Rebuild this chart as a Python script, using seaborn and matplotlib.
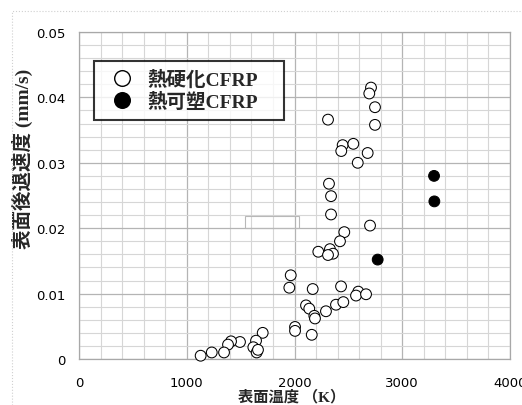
import matplotlib
matplotlib.use("Agg")
import matplotlib.pyplot as plt
from matplotlib.patches import Rectangle
from matplotlib.ticker import MultipleLocator
import seaborn as sns
import pandas as pd

# ---- data ----
thermoset_temp = [2710, 2694, 2747, 2747, 2311, 2447, 2434, 2546, 2679, 2587,
                  2320, 2339, 2339, 2701, 2462, 2422, 2221, 2329, 2357, 2311,
                  1965, 1952, 2169, 2432, 2592, 2571, 2664, 2107, 2137, 2184,
                  2190, 2292, 2385, 2453, 2005, 2005, 2160, 1705, 1643, 1618,
                  1649, 1661, 1494, 1411, 1383, 1346, 1232, 1129]
thermoset_rate = [0.0415, 0.0406, 0.0385, 0.0358, 0.0366, 0.0327, 0.0318, 0.0329, 0.0315, 0.0300,
                  0.0268, 0.0249, 0.0221, 0.0204, 0.0194, 0.0180, 0.0164, 0.0168, 0.0161, 0.0159,
                  0.0128, 0.0109, 0.0107, 0.0111, 0.0103, 0.0097, 0.0099, 0.0082, 0.0077, 0.0066,
                  0.0062, 0.0073, 0.0083, 0.0087, 0.0049, 0.0043, 0.0037, 0.0040, 0.0028, 0.0018,
                  0.0010, 0.0014, 0.0026, 0.0027, 0.0022, 0.0010, 0.0010, 0.0005]
thermoplastic_temp = [3295, 3298, 2772]
thermoplastic_rate = [0.0280, 0.0241, 0.0152]

series_labels = ["熱硬化CFRP", "熱可塑CFRP"]
x_ticks = [0, 1000, 2000, 3000, 4000]
x_tick_labels = ["0", "1000", "2000", "3000", "4000"]
y_ticks = [0, 0.01, 0.02, 0.03, 0.04, 0.05]
y_tick_labels = ["0", "0.01", "0.02", "0.03", "0.04", "0.05"]
x_label = "表面温度 （K）"
y_label = "表面後退速度 (mm/s)"

df = pd.DataFrame({
    "temp": thermoset_temp + thermoplastic_temp,
    "rate": thermoset_rate + thermoplastic_rate,
    "kind": [series_labels[0]] * len(thermoset_temp) + [series_labels[1]] * len(thermoplastic_temp),
})

sns.set_style("white")
plt.rcParams["font.family"] = ["DejaVu Sans"]
cjk = ["Liberation Serif", "Noto Sans CJK JP"]

fig = plt.figure(figsize=(5.22, 4.06), dpi=100)
ax = fig.add_axes([79 / 522, 1 - 360 / 406, 431 / 522, 327 / 406])

sns.scatterplot(data=df, x="temp", y="rate", hue="kind", style="kind",
                palette={series_labels[0]: "white", series_labels[1]: "black"},
                markers={series_labels[0]: "o", series_labels[1]: "o"},
                edgecolor="black", linewidth=0.75, s=60, ax=ax, clip_on=False, zorder=3)

# grid / ticks
ax.set_xlim(0, 4000)
ax.set_ylim(0, 0.05)
ax.set_xticks(x_ticks, x_tick_labels)
ax.set_yticks(y_ticks, y_tick_labels)
ax.xaxis.set_minor_locator(MultipleLocator(200))
ax.yaxis.set_minor_locator(MultipleLocator(0.002))
ax.grid(which="minor", color="#d6d6d6", linewidth=0.8)
ax.grid(which="major", color="#b4b4b4", linewidth=0.9)
ax.set_axisbelow(True)
ax.tick_params(which="minor", length=0)
ax.tick_params(which="major", length=3, color="#999999", labelsize=9.5, labelcolor="black")
ax.tick_params(axis="x", pad=9)
ax.tick_params(axis="y", pad=7)
for s in ax.spines.values():
    s.set_color("#a8a8a8")
    s.set_linewidth(0.9)

ax.set_xlabel(x_label, family=cjk, weight="bold", fontsize=11)
ax.set_ylabel(y_label, family=cjk, weight="bold", fontsize=14)
ax.xaxis.set_label_coords(0.494, -0.09)
ax.yaxis.set_label_coords(-0.107, 0.615)

handles, labels = ax.get_legend_handles_labels()
leg = ax.legend(handles, labels, loc="upper left", bbox_to_anchor=(0.035, 0.5, 0.441, 0.411),
                mode="expand", borderaxespad=0, frameon=True, fancybox=False, markerscale=1.45,
                handlelength=2.0, borderpad=0.45, handletextpad=0.3, labelspacing=0.15,
                prop={"family": cjk, "weight": "bold", "size": 14})
leg.get_frame().set_edgecolor("black")
leg.get_frame().set_linewidth(1.5)
for h in leg.legend_handles:
    try:
        h.set_markeredgecolor("black")
        h.set_markeredgewidth(1.0)
    except AttributeError:
        h.set_edgecolor("black")

# stray empty text box in the original
ax.add_patch(Rectangle((0.385, 0.401), 0.125, 0.037, transform=ax.transAxes,
                       fill=False, edgecolor="#b8b8b8", linewidth=0.8, zorder=2))

# dotted outer frame of the original figure
fig.add_artist(Rectangle((12 / 522, -0.2), 1.2, 1.2 - 12 / 406, transform=fig.transFigure,
                         fill=False, edgecolor="#d0d0d0", linewidth=0.8, linestyle=":"))

fig.savefig("out.png", dpi=100)
